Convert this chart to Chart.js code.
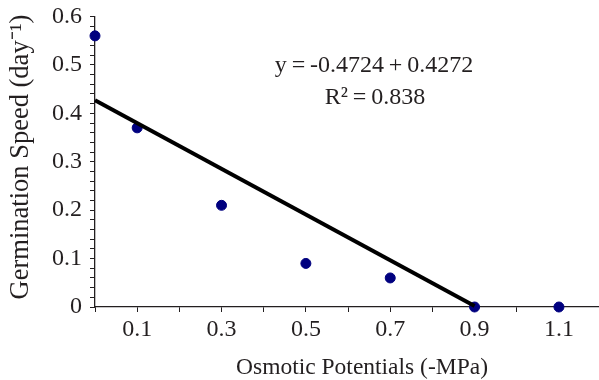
<!DOCTYPE html>
<html><head><meta charset="utf-8">
<script src="https://cdn.jsdelivr.net/npm/chart.js@4/dist/chart.umd.min.js"></script>
<style>html,body{margin:0;padding:0;background:#fff}#wrap{width:599px;height:380px}</style>
</head><body><div id="wrap"><canvas id="c" width="599" height="380"></canvas></div>
<script>
const potentials = [0, 0.1, 0.3, 0.5, 0.7, 0.9, 1.1];
const speeds = [0.56, 0.37, 0.21, 0.09, 0.06, 0.0, 0.0];
const fitX = [0, 0.9];
const fitY = [0.427, 0.002];
const xTickValues = [0, 0.1, 0.2, 0.3, 0.4, 0.5, 0.6, 0.7, 0.8, 0.9, 1.0, 1.1];
const xLabelValues = [0.1, 0.3, 0.5, 0.7, 0.9, 1.1];
const yTickValues = [0,0.02,0.04,0.06,0.08,0.1,0.12,0.14,0.16,0.18,0.2,0.22,0.24,0.26,0.28,0.3,0.32,0.34,0.36,0.38,0.4,0.42,0.44,0.46,0.48,0.5,0.52,0.54,0.56,0.58,0.6];
const yLabelValues = [0, 0.1, 0.2, 0.3, 0.4, 0.5, 0.6];
const equationText = "y\u2009=\u2009-0.4724\u2009+\u20090.4272";
const r2Text = "R²\u2009=\u20090.838";
const xTitle = "Osmotic Potentials (-MPa)";
const yTitle = "Germination Speed (day⁻¹)";

const FONT = "'Liberation Serif', 'Times New Roman', serif";
const TXT = '#231f20';
const AX = '#231f20';
const near = (v, arr) => arr.some(a => Math.abs(a - v) < 1e-6);

const textPlugin = {
  id: 'texts',
  afterDraw(chart) {
    const ctx = chart.ctx;
    ctx.save();
    ctx.fillStyle = TXT;
    ctx.font = "24px " + FONT;
    ctx.textAlign = 'center';
    ctx.textBaseline = 'alphabetic';
    ctx.fillText(equationText, 374, 72);
    ctx.fillText(r2Text, 375, 104);
    ctx.font = "23.5px " + FONT;
    ctx.fillText(xTitle, 362, 374);
    ctx.translate(28, 157);
    ctx.rotate(-Math.PI / 2);
    ctx.font = "26.5px " + FONT;
    ctx.fillText(yTitle, 0, 0);
    ctx.restore();
  }
};

new Chart(document.getElementById('c'), {
  type: 'scatter',
  data: {
    datasets: [
      {
        type: 'line',
        data: fitX.map((x, i) => ({x, y: fitY[i]})),
        borderColor: '#000',
        borderWidth: 4,
        pointRadius: 0,
        fill: false,
        clip: false
      },
      {
        data: potentials.map((x, i) => ({x, y: speeds[i]})),
        backgroundColor: '#00007f',
        borderColor: '#00007f',
        pointRadius: 5,
        pointHoverRadius: 5,
        clip: false
      }
    ]
  },
  options: {
    responsive: false,
    animation: false,
    devicePixelRatio: 1,
    layout: {autoPadding: false, padding: {top: 16.5, right: 0, left: 0, bottom: 0}},
    plugins: {legend: {display: false}, tooltip: {enabled: false}},
    scales: {
      x: {
        type: 'linear',
        min: 0, max: 1.195,
        afterBuildTicks: s => { s.ticks = xTickValues.map(v => ({value: v})); },
        afterFit: s => { s.height = 73; },
        grid: {display: true, drawOnChartArea: false, drawTicks: true, tickLength: 5, color: AX, lineWidth: 1},
        border: {display: true, color: AX, width: 1.3},
        ticks: {
          autoSkip: false, maxRotation: 0, padding: 3, color: TXT,
          font: {family: FONT, size: 24},
          callback: v => near(v, xLabelValues) ? String(Number(v.toFixed(1))) : ''
        }
      },
      y: {
        type: 'linear',
        min: 0, max: 0.6,
        afterBuildTicks: s => { s.ticks = yTickValues.map(v => ({value: v})); },
        afterFit: s => { s.width = 95; s.paddingTop = 0; s.paddingBottom = 0; },
        grid: {display: true, drawOnChartArea: false, drawTicks: true, tickLength: 5, color: AX, lineWidth: 1},
        border: {display: true, color: AX, width: 1.3},
        ticks: {
          autoSkip: false, padding: 8, color: TXT,
          font: {family: FONT, size: 24},
          callback: v => near(v, yLabelValues) ? String(Number(v.toFixed(1))) : ''
        }
      }
    }
  },
  plugins: [textPlugin]
});
</script></body></html>
